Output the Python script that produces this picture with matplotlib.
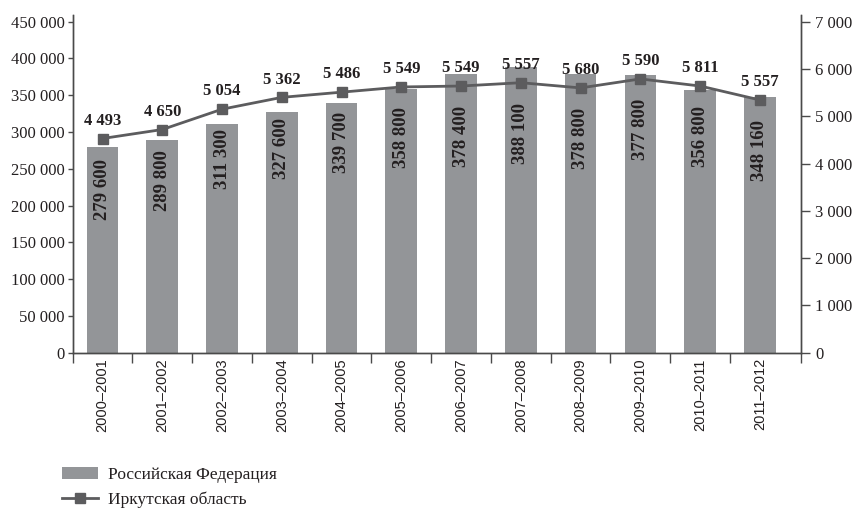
import matplotlib
matplotlib.use('Agg')
import matplotlib.pyplot as plt
from matplotlib.patches import Patch
from matplotlib.lines import Line2D
import numpy as np

# data
years = ['2000–2001', '2001–2002', '2002–2003', '2003–2004', '2004–2005', '2005–2006',
         '2006–2007', '2007–2008', '2008–2009', '2009–2010', '2010–2011', '2011–2012']
russia = [279600, 289800, 311300, 327600, 339700, 358800,
          378400, 388100, 378800, 377800, 356800, 348160]
# line points as drawn in the picture (right axis)
irkutsk = [4530, 4720, 5150, 5400, 5510, 5620, 5640, 5710, 5600, 5790, 5640, 5345]
# labels printed above the points
irkutsk_labels = ['4 493', '4 650', '5 054', '5 362', '5 486', '5 549',
                  '5 549', '5 557', '5 680', '5 590', '5 811', '5 557']
left_ticks = np.arange(0, 450001, 50000)
right_ticks = np.arange(0, 7001, 1000)

BAR = '#939598'
LINE = '#5c5c5e'
INK = '#231f20'
SPINE = '#4a4a4a'
SERIF = ['Liberation Serif', 'DejaVu Serif']


def fmt(v):
    return f'{v:,}'.replace(',', ' ')


fig = plt.figure(figsize=(8.58, 5.09), dpi=100)
ax = fig.add_axes([0.0847, 0.3071, 0.8485, 0.6634])
ax2 = ax.twinx()

x = np.arange(len(years))
x_right = 11.683

# bars
ax.bar(x, russia, width=0.53, color=BAR, zorder=2)

# line
ax2.plot(x, irkutsk, color=LINE, linewidth=2, marker='s', markersize=7.5,
         markerfacecolor=LINE, markeredgecolor=LINE, zorder=4)
for i, (v, lab) in enumerate(zip(irkutsk, irkutsk_labels)):
    ax2.annotate(lab, (i, v), xytext=(0, 7), textcoords='offset points',
                 ha='center', va='bottom', fontsize=12, fontweight='bold',
                 family=SERIF, color=INK)
    # bar value sits in the bar, just under the line
    ax2.annotate(fmt(russia[i]), (i, v), xytext=(0, -14.5), textcoords='offset points',
                 rotation=90, ha='center', va='top', fontsize=13.5,
                 fontweight='bold', family=SERIF, color=INK, zorder=3)

# axes
ax.set_xlim(-0.5, x_right)
ax.set_ylim(0, 450000 * (1 + 6.7 / 331))
ax2.set_ylim(0, 7000 * (1 + 6.7 / 331))
ax.set_yticks(left_ticks)
ax.set_yticklabels([fmt(v) for v in left_ticks], family=SERIF, fontsize=12, color=INK)
ax2.set_yticks(right_ticks)
ax2.set_yticklabels([fmt(v) for v in right_ticks], family=SERIF, fontsize=12, color=INK)

ax.set_xticks(x)
ax.set_xticklabels(years, rotation=90, family=['Liberation Sans', 'DejaVu Sans'],
                   fontsize=10.5, color=INK)
ax.set_xticks(list(np.arange(-0.5, 11, 1.0)) + [x_right], minor=True)
ax.tick_params(axis='x', which='major', length=0, pad=4)
ax.tick_params(axis='x', which='minor', length=7, width=1, color=SPINE, direction='out')
ax.tick_params(axis='y', length=3.6, width=1, color=SPINE, pad=2)
ax2.tick_params(axis='y', length=6.5, width=1, color=SPINE, pad=4)

for a in (ax, ax2):
    a.spines['top'].set_visible(False)
    for s in ('left', 'right', 'bottom'):
        a.spines[s].set_color(SPINE)
        a.spines[s].set_linewidth(1)

# legend
handles = [Patch(facecolor=BAR, edgecolor='none'),
           Line2D([], [], color=LINE, linewidth=2, marker='s', markersize=7)]
leg = fig.legend(handles, ['Российская Федерация', 'Иркутская область'],
                 loc='upper left', bbox_to_anchor=(0.072, 1 - 467 / 509),
                 bbox_transform=fig.transFigure, frameon=False,
                 prop={'family': SERIF, 'size': 12.5},
                 handlelength=2.1, handleheight=0.65, handletextpad=0.55,
                 labelspacing=0.5, borderaxespad=0, borderpad=0)
for t in leg.get_texts():
    t.set_color(INK)

fig.savefig('out.png', dpi=100)
